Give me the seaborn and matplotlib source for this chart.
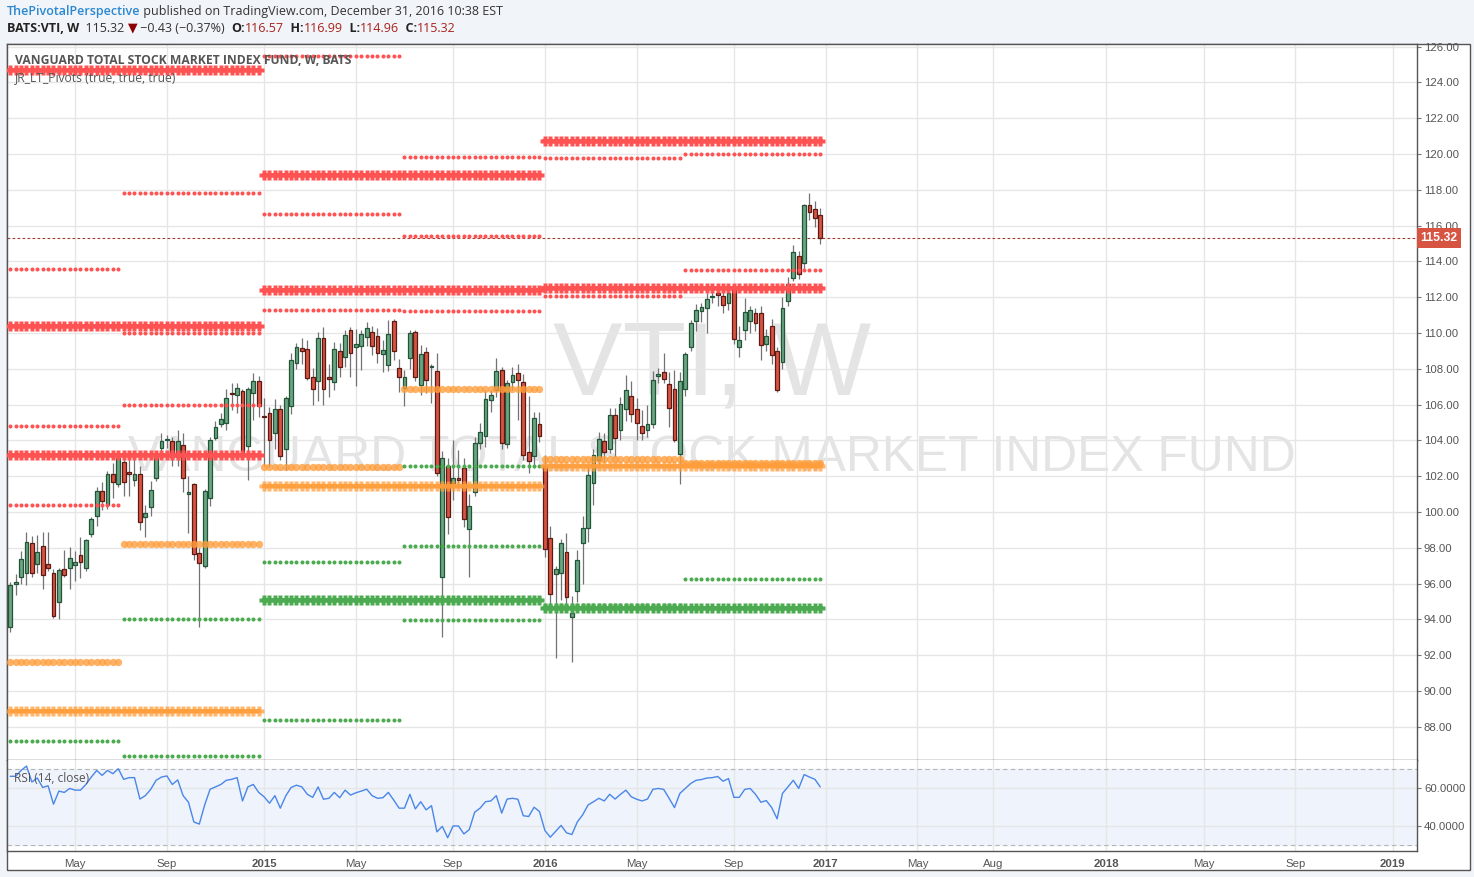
import numpy as np
import pandas as pd
import matplotlib
matplotlib.use('Agg')
import matplotlib.pyplot as plt
import seaborn as sns
from matplotlib.patches import Rectangle

# ---- data: BATS:VTI weekly bars ----
weeks = pd.date_range('2014-02-10', periods=151, freq='W-MON')

opens = [93.6, 96.0, 96.35, 96.6, 98.3, 97.1, 98.1, 97.1, 96.6, 95.0,
         96.8, 96.9, 97.05, 97.6, 96.9, 98.8, 99.8, 101.2, 100.4, 102.15,
         101.55, 102.8, 102.25, 101.8, 102.15, 99.75, 100.3, 101.9, 103.6, 104.05,
         103.95, 103.1, 103.75, 101.0, 101.55, 97.7, 97.0, 100.8, 104.15, 104.9,
         105.0, 106.65, 106.55, 106.75, 103.7, 106.65, 107.35, 105.35, 105.55, 104.4,
         105.75, 103.5, 105.9, 108.35, 109.15, 109.1, 107.55, 107.35, 109.7, 107.55,
         107.25, 109.0, 108.65, 110.2, 109.25, 109.3, 109.8, 110.05, 109.85, 108.85,
         108.2, 110.65, 108.05, 106.95, 108.6, 110.05, 107.1, 108.95, 108.1, 107.9,
         96.4, 102.55, 101.6, 101.9, 102.45, 99.05, 101.1, 103.85, 104.25, 106.25,
         106.8, 107.95, 103.8, 107.25, 107.75, 107.25, 103.35, 103.15, 104.9, 102.55,
         98.55, 96.55, 96.6, 97.75, 94.15, 95.6, 98.25, 99.1, 101.6, 102.9,
         103.95, 103.55, 105.45, 104.6, 105.75, 106.5, 105.75, 104.8, 104.6, 104.9,
         107.6, 107.85, 107.15, 106.9, 103.25, 106.9, 109.2, 110.65, 111.25, 111.4,
         112.0, 112.25, 112.05, 111.7, 112.45, 109.2, 110.2, 110.65, 111.1, 111.1,
         109.4, 110.4, 109.0, 108.4, 111.8, 113.1, 114.3, 113.9, 117.15, 116.95,
         116.57]
highs = [96.1, 96.55, 97.85, 98.9, 98.65, 98.7, 98.9, 98.9, 96.8, 96.9,
         97.9, 98.05, 97.8, 98.6, 98.5, 99.7, 101.4, 101.7, 102.3, 102.75,
         103.3, 103.3, 103.0, 103.0, 102.6, 100.4, 101.75, 103.4, 104.4, 104.3,
         104.2, 104.6, 104.4, 102.0, 101.65, 98.0, 101.3, 104.2, 105.1, 105.55,
         106.9, 107.2, 107.2, 106.9, 107.0, 107.75, 107.6, 106.4, 105.85, 106.3,
         106.0, 106.5, 108.9, 109.45, 109.7, 109.6, 108.05, 110.05, 110.35, 108.3,
         109.5, 109.45, 110.15, 110.35, 110.25, 110.2, 110.6, 110.4, 110.3, 109.6,
         110.75, 110.8, 108.55, 107.95, 110.15, 110.15, 109.35, 109.2, 108.3, 108.9,
         103.4, 103.0, 104.0, 103.45, 103.0, 101.0, 104.2, 105.0, 106.8, 106.8,
         108.6, 108.1, 107.4, 108.1, 108.25, 107.7, 106.5, 105.6, 105.6, 103.2,
         99.2, 97.0, 98.5, 98.85, 95.3, 97.9, 99.8, 102.5, 103.5, 104.5,
         104.4, 105.8, 105.8, 106.45, 107.65, 107.3, 106.4, 105.7, 106.0, 107.9,
         108.05, 108.9, 107.8, 107.95, 107.8, 108.95, 110.75, 111.6, 111.7, 112.25,
         112.3, 112.7, 112.5, 112.6, 112.6, 110.4, 111.95, 111.5, 111.4, 111.5,
         110.25, 110.8, 109.2, 112.0, 113.15, 114.9, 114.6, 117.2, 117.8, 117.4,
         116.99]
lows = [93.3, 95.35, 96.0, 95.95, 96.4, 96.6, 95.7, 96.7, 94.1, 94.0,
        96.4, 95.7, 96.15, 96.3, 96.7, 98.6, 99.2, 100.1, 100.2, 100.8,
        101.4, 100.9, 100.9, 101.45, 99.0, 98.6, 99.8, 101.75, 103.3, 103.6,
        102.6, 102.6, 101.1, 98.85, 97.3, 93.6, 96.9, 100.35, 104.0, 104.75,
        104.6, 105.7, 105.55, 103.2, 101.8, 105.15, 105.3, 102.6, 102.5, 103.5,
        102.9, 102.35, 105.5, 108.0, 108.3, 107.4, 106.0, 106.2, 106.0, 106.45,
        106.8, 107.55, 108.1, 107.55, 107.05, 107.95, 109.3, 108.75, 108.35, 107.8,
        107.9, 108.5, 106.7, 105.9, 108.0, 107.3, 106.55, 106.65, 106.1, 102.0,
        93.0, 98.8, 100.65, 101.35, 99.15, 96.4, 100.9, 103.5, 103.65, 105.6,
        106.45, 103.5, 103.6, 106.8, 105.15, 102.9, 102.2, 102.45, 103.9, 97.5,
        94.35, 91.85, 95.1, 94.9, 91.6, 95.0, 96.0, 98.35, 100.4, 102.5,
        102.8, 103.3, 103.1, 104.0, 105.1, 105.05, 104.05, 104.0, 104.2, 104.7,
        107.2, 107.2, 104.75, 103.9, 101.55, 106.5, 109.0, 110.1, 110.6, 110.0,
        111.7, 111.5, 111.1, 111.3, 109.4, 108.65, 109.6, 110.0, 110.1, 108.5,
        109.0, 108.3, 106.7, 108.0, 111.5, 112.9, 113.0, 113.6, 116.3, 115.9,
        114.96]
closes = [95.9, 96.1, 97.4, 98.35, 96.6, 97.75, 96.5, 96.9, 94.2, 96.75,
          96.5, 97.45, 97.2, 97.2, 98.45, 99.6, 101.2, 100.6, 102.15, 101.7,
          103.0, 101.7, 102.15, 102.15, 99.45, 99.95, 101.25, 103.0, 103.95, 104.1,
          103.05, 103.95, 101.9, 101.1, 97.65, 97.15, 101.15, 104.0, 104.75, 105.2,
          106.35, 106.6, 106.95, 103.35, 106.9, 107.35, 105.9, 105.3, 104.0, 105.75,
          103.15, 106.35, 108.5, 109.25, 109.0, 107.5, 106.85, 109.75, 106.85, 107.45,
          109.1, 108.1, 109.9, 108.9, 109.4, 109.95, 110.3, 109.3, 108.9, 109.05,
          109.95, 109.0, 107.55, 107.55, 110.0, 107.55, 108.85, 107.4, 108.15, 102.2,
          103.0, 99.75, 101.9, 101.8, 99.6, 100.35, 103.85, 104.5, 106.3, 106.55,
          107.9, 103.85, 107.2, 107.65, 107.4, 103.2, 102.85, 105.25, 104.25, 97.95,
          95.45, 96.8, 98.3, 95.25, 94.35, 97.3, 99.1, 102.05, 103.2, 104.1,
          103.35, 105.45, 104.15, 106.05, 106.8, 105.5, 104.95, 104.4, 104.9, 107.4,
          107.7, 107.45, 105.8, 104.05, 107.35, 108.85, 110.55, 111.3, 111.45, 111.9,
          112.05, 112.1, 111.55, 112.25, 109.65, 109.6, 111.15, 111.3, 110.55, 109.35,
          109.85, 108.8, 106.8, 111.4, 112.75, 114.55, 113.3, 117.15, 116.75, 116.45,
          115.32]
rsi = [66.4, 66.4, 69.5, 71.8, 63.4, 65.5, 60.5, 61.4, 51.7, 58.6,
       57.9, 60.0, 59.1, 59.1, 62.1, 66.0, 69.5, 66.9, 69.5, 67.8,
       70.4, 64.8, 65.7, 65.7, 54.4, 56.2, 59.5, 64.3, 66.0, 66.6,
       62.1, 64.5, 56.2, 52.7, 42.3, 41.2, 51.3, 59.6, 60.8, 62.1,
       64.3, 64.8, 65.7, 53.4, 60.8, 62.1, 57.9, 55.6, 52.2, 56.2,
       49.6, 56.0, 60.5, 61.7, 60.8, 56.9, 55.3, 60.8, 54.3, 54.8,
       57.9, 55.1, 59.1, 56.5, 57.7, 58.6, 59.6, 56.2, 54.8, 55.1,
       57.9, 53.9, 49.6, 49.6, 56.9, 49.2, 53.0, 48.7, 50.9, 37.1,
       40.0, 34.0, 40.2, 40.2, 36.0, 38.3, 47.5, 49.6, 53.0, 53.4,
       56.2, 47.0, 54.4, 54.8, 54.3, 45.6, 45.2, 50.1, 47.8, 37.8,
       34.3, 37.4, 40.5, 36.6, 35.7, 42.3, 46.1, 51.3, 53.0, 54.8,
       53.4, 56.9, 54.4, 56.9, 59.1, 55.6, 54.3, 53.4, 54.4, 59.5,
       60.0, 59.5, 54.8, 49.9, 57.4, 60.0, 62.6, 64.3, 64.7, 65.5,
       65.7, 66.3, 63.8, 65.2, 55.3, 55.3, 59.5, 60.0, 56.9, 52.7,
       53.6, 49.9, 44.0, 57.4, 60.8, 64.3, 60.0, 67.3, 66.0, 64.8,
       60.8]

# JR_LT_Pivots levels
half_periods = ['2014H1', '2014H2', '2015H1', '2015H2', '2016H1', '2016H2']
half_res = [[113.6, 104.8, 100.4], [117.8, 110.0, 106.0], [125.5, 116.65, 111.3],
            [119.85, 115.4, 111.25], [119.8, 112.05], [120.0, 113.55]]
half_piv = [91.65, 98.2, 102.5, 106.85, 102.95, 102.75]
half_sup = [[87.2], [94.05, 86.35], [97.2, 88.4], [102.6, 98.1, 93.95], [94.8], [96.25]]
years = [2014, 2015, 2016]
year_res = [[124.7, 110.4, 103.2], [118.85, 112.4], [120.75, 112.5]]
year_piv = [88.9, 101.45, 102.55]
year_sup = [[], [95.1], [94.65]]

label_months = ['2014-05', '2014-09', '2015-01', '2015-05', '2015-09', '2016-01',
                '2016-05', '2016-09', '2017-01', '2017-05', '2017-08', '2018-01',
                '2018-05', '2018-09', '2019-01']

# ---- figure ----
sns.set_theme(style='white')
plt.rcParams['font.family'] = ['Liberation Sans', 'DejaVu Sans']

W, H = 1474, 877
fig = plt.figure(figsize=(W / 100, H / 100), dpi=100, facecolor='#f1f4f8')
fx = lambda px: px / W
fy = lambda py: 1 - py / H

# white chart frame
fig.add_artist(Rectangle((fx(7), fy(870)), fx(1470) - fx(7), fy(44) - fy(870),
                         transform=fig.transFigure, fc='white', ec='#555555', lw=1, zorder=-5))

ax = fig.add_axes([fx(7), fy(760), fx(1417) - fx(7), fy(44) - fy(760)])
rax = fig.add_axes([fx(7), fy(851), fx(1417) - fx(7), fy(760) - fy(851)], sharex=ax)

bar_idx = np.arange(len(closes))
all_weeks = pd.date_range('2014-02-10', periods=270, freq='W-MON')
tick_pos, tick_lab, tick_bold = [], [], []
for m in label_months:
    p = pd.Period(m)
    i = int(np.argmax((all_weeks.year == p.year) & (all_weeks.month == p.month)))
    tick_pos.append(i)
    tick_lab.append(str(p.year) if p.month == 1 else p.strftime('%b'))
    tick_bold.append(p.month == 1)

for a in (ax, rax):
    a.set_facecolor('white')
    a.set_xlim(-0.61, 260.5)
    a.set_xticks(tick_pos)
    a.grid(True, color='#e6e6e6', lw=1)
    a.set_axisbelow(True)
    for s in a.spines.values():
        s.set_color('#555555')
        s.set_linewidth(1)
    a.yaxis.tick_right()
    a.tick_params(axis='y', direction='out', length=3, width=0.8, color='#777777',
                  labelsize=8.2, labelcolor='#555555', pad=2)
rax.spines['top'].set_visible(False)

# watermark
ax.text(0.5, 0.547, 'VTI, W', transform=ax.transAxes, ha='center', va='center',
        fontsize=75, color='#e4e4e4', zorder=0)
ax.text(0.5, 0.422, 'VANGUARD TOTAL STOCK MARKET INDEX FUND', transform=ax.transAxes,
        ha='center', va='center', fontsize=35.8, color='#e4e4e4', zorder=0)

# candles
o = np.array(opens); c = np.array(closes)
up = c >= o
body_lo = np.minimum(o, c)
body_h = np.maximum(np.abs(c - o), 0.06)
ax.vlines(bar_idx, lows, highs, color='#737375', lw=0.9, zorder=3)
ax.bar(bar_idx[up], body_h[up], bottom=body_lo[up], width=0.72, color='#6ba583',
       edgecolor='#225437', lw=0.9, zorder=4)
ax.bar(bar_idx[~up], body_h[~up], bottom=body_lo[~up], width=0.72, color='#d75442',
       edgecolor='#5b1a13', lw=0.9, zorder=4)

# pivots
RED, ORANGE, GREEN = '#ff5252', '#ff9d3a', '#4caa50'
half_key = np.array([f'{d.year}H{1 if d.month <= 6 else 2}' for d in weeks])


def pivot_row(mask, level, color, marker, size, alpha=1.0, band=0.0):
    xs = bar_idx[mask]
    ys = np.full(len(xs), level)
    if band:
        ax.plot([xs[0] - 0.45, xs[-1] + 0.45], [level, level], color=color, lw=band,
                alpha=alpha, solid_capstyle='butt', zorder=5)
    ax.plot(xs, ys, ls='none', marker=marker, ms=size, color=color, mec='none',
            alpha=alpha, zorder=5)


for k, per in enumerate(half_periods):
    m = half_key == per
    for lv in half_res[k]:
        pivot_row(m, lv, RED, 'o', 2.9)
    pivot_row(m, half_piv[k], ORANGE, 'o', 5.3, 0.78)
    for lv in half_sup[k]:
        pivot_row(m, lv, GREEN, 'o', 2.9)
for k, yr in enumerate(years):
    m = weeks.year == yr
    for lv in year_res[k]:
        pivot_row(m, lv, RED, 'P', 6.6, band=2.7)
    pivot_row(m, year_piv[k], ORANGE, 'P', 7.2, 0.75, band=3.0)
    for lv in year_sup[k]:
        pivot_row(m, lv, GREEN, 'P', 6.6, band=2.7)

# last price
last = closes[-1]
ax.axhline(last, color='#a04030', lw=0.8, ls=(0, (2.5, 2)), zorder=2)
ax.set_ylim(86.15, 126.15)
ax.set_yticks(np.arange(88, 127, 2))
ax.set_yticklabels([f'{v:.2f}' for v in np.arange(88, 127, 2)])
ax.tick_params(axis='x', bottom=False, labelbottom=False)
ax.text(1.0025, last, f'{last:.2f}', transform=ax.get_yaxis_transform(), ha='left', va='center',
        fontsize=8.8, color='white', fontweight='bold', zorder=10, clip_on=False,
        bbox=dict(boxstyle='square,pad=0.3', fc='#d75442', ec='none'))

# legends
ax.text(0.0057, 0.977, 'VANGUARD TOTAL STOCK MARKET INDEX FUND, W, BATS', transform=ax.transAxes,
        ha='left', va='center', fontsize=8.7, fontweight='bold', color='#555555',
        family=['Open Sans', 'DejaVu Sans'], zorder=8)
ax.text(0.0057, 0.953, 'JR_LT_Pivots (true, true, true)', transform=ax.transAxes,
        ha='left', va='center', fontsize=8.7, color='#555555',
        family=['Open Sans', 'DejaVu Sans'], zorder=8)

# RSI panel
rax.axhspan(30, 70, color='#eef3fc', zorder=0)
rax.axhline(70, color='#b5b5b5', lw=0.8, ls=(0, (4, 3)), zorder=1)
rax.axhline(30, color='#b5b5b5', lw=0.8, ls=(0, (4, 3)), zorder=1)
sns.lineplot(x=bar_idx, y=rsi, ax=rax, color='#4a86e8', lw=1.0, zorder=3)
rax.set_ylim(27.0, 75.0)
rax.set_yticks([40, 60])
rax.set_yticklabels(['40.0000', '60.0000'])
rax.set_ylabel('')
rax.text(0.005, 0.80, 'RSI (14, close)', transform=rax.transAxes, ha='left', va='center',
         fontsize=8.6, color='#555555', family=['Open Sans', 'DejaVu Sans'], zorder=8)
rax.set_xticklabels(tick_lab)
rax.tick_params(axis='x', length=0, pad=6, labelsize=8.2, labelcolor='#555555')
for t, b in zip(rax.get_xticklabels(), tick_bold):
    if b:
        t.set_fontweight('bold')

# header runs
renderer = fig.canvas.get_renderer()
HF = ['Open Sans', 'DejaVu Sans']


def runs(x, y, parts):
    for txt, kw in parts:
        t = fig.text(fx(x), fy(y), txt, ha='left', va='center', fontsize=9.0, family=HF, **kw)
        x += t.get_window_extent(renderer).width


runs(7, 11, [('ThePivotalPerspective', dict(color='#2a87d0', fontweight='semibold')),
             (' published on TradingView.com, December 31, 2016 10:38 EST', dict(color='#333333'))])
DR = '#a8231b'
runs(7, 28, [('BATS:VTI, W', dict(color='#222222', fontweight='bold')),
             ('  115.32 ', dict(color='#333333')),
             ('\u25bc', dict(color='#8b0000')),
             (' \u22120.43 (\u22120.37%)  ', dict(color='#333333')),
             ('O:', dict(color='#222222', fontweight='bold')), ('116.57', dict(color=DR)),
             ('  H:', dict(color='#222222', fontweight='bold')), ('116.99', dict(color=DR)),
             ('  L:', dict(color='#222222', fontweight='bold')), ('114.96', dict(color=DR)),
             ('  C:', dict(color='#222222', fontweight='bold')), ('115.32', dict(color=DR))])

fig.savefig('out.png', dpi=100, facecolor=fig.get_facecolor())
